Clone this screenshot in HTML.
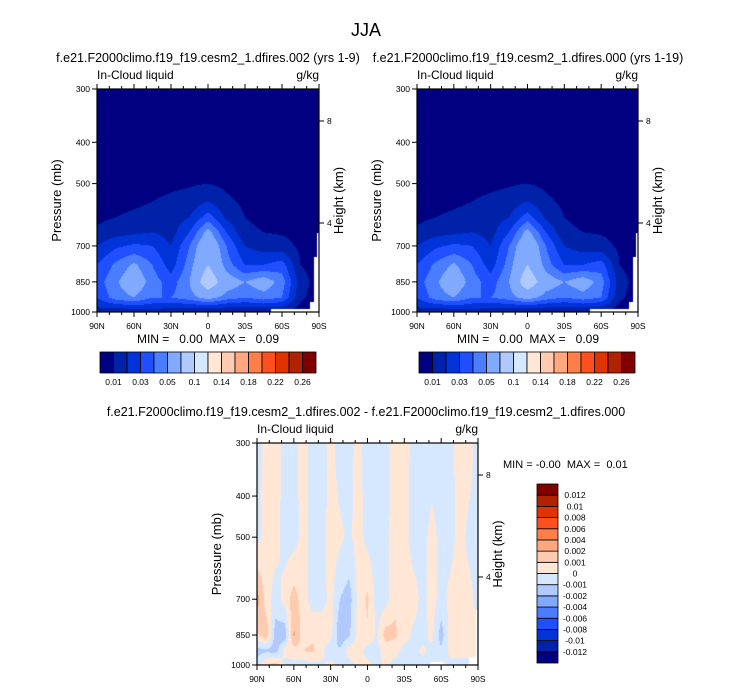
<!DOCTYPE html>
<html><head><meta charset="utf-8">
<style>
body{margin:0;background:#fff;}
#wrap{position:relative;width:732px;height:689px;overflow:hidden;font-family:"Liberation Sans",Arial,sans-serif;}
canvas{position:absolute;}
svg{position:absolute;left:0;top:0;}
</style></head>
<body>
<div id="wrap">
<canvas id="c1" width="222" height="223" style="left:97px;top:89px"></canvas>
<canvas id="c2" width="221" height="223" style="left:417px;top:89px"></canvas>
<canvas id="c3" width="221" height="222" style="left:257px;top:443px"></canvas>
<svg id="ov" width="732" height="689"></svg>
</div>
<script>
// ---- data ----
const lats = [90,75,60,45,30,15,0,-15,-30,-45,-60,-75,-90];
const levs = [300,400,500,550,600,650,700,775,850,925,1000];
const fieldA = [
 [.003,.003,.003,.003,.003,.003,.003,.003,.003,.003,.003,.003,.003],
 [.004,.004,.004,.004,.004,.004,.004,.004,.004,.004,.004,.004,.004],
 [.005,.005,.006,.007,.008,.009,.010,.008,.006,.005,.005,.005,.005],
 [.006,.007,.008,.010,.012,.014,.020,.012,.008,.006,.006,.005,.005],
 [.008,.010,.012,.014,.015,.020,.035,.018,.010,.008,.007,.006,.005],
 [.012,.016,.018,.020,.016,.030,.055,.030,.012,.010,.009,.007,.005],
 [.020,.028,.032,.030,.020,.040,.065,.040,.020,.015,.014,.008,.005],
 [.030,.042,.052,.040,.025,.045,.070,.045,.030,.030,.035,.010,.005],
 [.035,.048,.060,.045,.035,.050,.085,.058,.050,.058,.045,.015,.005],
 [.030,.045,.050,.040,.040,.045,.055,.045,.040,.045,.040,.012,.005],
 [.015,.010,.012,.015,.012,.010,.008,.008,.008,.008,.008,.005,.004]];
const fieldB = [
 [.003,.003,.003,.003,.003,.003,.003,.003,.003,.003,.003,.003,.003],
 [.004,.004,.004,.004,.004,.004,.004,.004,.004,.004,.004,.004,.004],
 [.005,.005,.006,.007,.008,.009,.010,.008,.006,.005,.005,.005,.005],
 [.006,.007,.008,.010,.012,.014,.020,.012,.008,.006,.006,.005,.005],
 [.008,.010,.012,.014,.015,.020,.035,.018,.010,.008,.007,.006,.005],
 [.012,.016,.018,.020,.016,.030,.055,.030,.012,.010,.009,.007,.005],
 [.020,.028,.032,.030,.020,.040,.065,.040,.020,.015,.014,.008,.005],
 [.030,.042,.052,.040,.025,.045,.070,.045,.030,.030,.035,.010,.005],
 [.035,.048,.060,.045,.035,.050,.085,.058,.050,.058,.045,.015,.005],
 [.030,.045,.050,.040,.040,.045,.055,.045,.040,.045,.040,.012,.005],
 [.015,.010,.012,.015,.012,.010,.008,.008,.008,.008,.008,.005,.004]];
const latsD = [90,82.5,75,67.5,60,52.5,45,37.5,30,22.5,15,7.5,0,-7.5,-15,-22.5,-30,-37.5,-45,-52.5,-60,-67.5,-75,-82.5,-90];
const levsD = [300,500,700,850,925,1000];
const fieldD = [
 [-.0005,.0005,.0006,-.0004,-.0003,.0004,-.0004,-.0005,.0003,-.0004,-.0003,.0003,-.0005,-.0004,-.0003,.0004,.0004,-.0003,-.0004,-.0004,-.0003,-.0003,.0004,.0003,-.0003],
 [-.0003,.0004,.0004,-.0004,-.0004,.0003,-.0003,-.0004,.0004,.0002,-.0002,.0004,-.0003,-.0005,-.0003,.0005,.0004,-.0004,-.0003,.0003,-.0003,-.0003,.0003,-.0002,-.0003],
 [.0025,.0005,-.0005,.0004,.0015,.0005,-.0004,-.0005,.0004,-.0010,-.0015,.0003,.0012,-.0004,-.0004,.0008,.0004,.0004,-.0003,.0004,-.0004,.0003,.0004,.0003,-.0003],
 [.0008,.0018,-.0015,-.0018,.0022,.0005,.0008,.0010,.0004,-.0018,-.0012,.0005,.0008,-.0002,.0015,.0012,.0004,-.0002,-.0004,.0003,-.0015,.0004,.0004,.0003,.0002],
 [-.0015,-.0012,-.0015,.0004,.0005,.0010,.0012,.0004,-.0010,-.0008,.0004,.0004,-.0004,-.0003,.0004,.0003,-.0003,-.0003,.0002,-.0003,-.0008,.0003,.0002,.0003,.0002],
 [-.0005,.0010,.0015,-.0004,-.0003,-.0006,-.0003,-.0002,.0004,-.0002,-.0003,.0002,.0003,-.0003,.0002,-.0003,-.0003,-.0003,-.0003,-.0003,.0004,-.0003,-.0002,-.0003,-.0003]];
const levelsA = [0.01,0.02,0.03,0.04,0.05,0.07,0.1,0.12,0.14,0.16,0.18,0.2,0.22,0.24,0.26];
const labelsA = ["0.01","0.03","0.05","0.1","0.14","0.18","0.22","0.26"];
const levelsD = [-0.012,-0.01,-0.008,-0.006,-0.004,-0.002,-0.001,0,0.001,0.002,0.004,0.006,0.008,0.01,0.012];
const labelsD = ["-0.012","-0.01","-0.008","-0.006","-0.004","-0.002","-0.001","0","0.001","0.002","0.004","0.006","0.008","0.01","0.012"];
const colors = ["#000080","#0022a8","#0033d8","#1f4fff","#4a7dff","#80aaff","#b0c9ff","#d5e8ff","#ffe6d5","#ffcbb0","#ffa880","#ff7f4a","#ff4f1f","#e03300","#b02200","#800000"];
const pTicks = [300,400,500,700,850,1000];
const latTicks = [90,60,30,0,-30,-60,-90];
const latLabels = ["90N","60N","30N","0","30S","60S","90S"];

function hex(c){return [parseInt(c.substr(1,2),16),parseInt(c.substr(3,2),16),parseInt(c.substr(5,2),16)];}
const rgb = colors.map(hex);
function yOfP(p,top,h){return top+Math.log(p/300)/Math.log(1000/300)*h;}
function xOfLat(l,left,w){return left+(90-l)/180*w;}
function interp(arr,v){
  const asc = arr[arr.length-1]>arr[0];
  for(let i=0;i<arr.length-1;i++){
    const a=arr[i],b=arr[i+1];
    if((asc&&v>=a&&v<=b)||(!asc&&v<=a&&v>=b)) return [i,(v-a)/(b-a)];
  }
  return asc?(v<arr[0]?[0,0]:[arr.length-2,1]):(v>arr[0]?[0,0]:[arr.length-2,1]);
}
function drawField(id,la,lv,f,levels,mask){
  const cv=document.getElementById(id),ctx=cv.getContext('2d');
  const W=cv.width,H=cv.height,img=ctx.createImageData(W,H);
  for(let y=0;y<H;y++){
    const p=300*Math.pow(1000/300,(y+0.5)/H);
    const [pi,pf]=interp(lv,p);
    for(let x=0;x<W;x++){
      const lat=90-(x+0.5)/W*180;
      const [li,lf]=interp(la,lat);
      const v=(1-pf)*((1-lf)*f[pi][li]+lf*f[pi][li+1])+pf*((1-lf)*f[pi+1][li]+lf*f[pi+1][li+1]);
      let k=0;while(k<levels.length&&v>=levels[k])k++;
      let c=rgb[k];
      if(mask && mask(x/W,y/H)) c=[255,255,255];
      const o=(y*W+x)*4;img.data[o]=c[0];img.data[o+1]=c[1];img.data[o+2]=c[2];img.data[o+3]=255;
    }
  }
  ctx.putImageData(img,0,0);
}
function topoMask(fx,fy){
  if(fx>0.78&&fy>0.985) return true;
  if(fx>0.955&&fy>0.955) return true;
  if(fx>0.975&&fy>0.75) return true;
  if(fx>0.99&&fy>0.645) return true;
  return false;
}
drawField('c1',lats,levs,fieldA,levelsA,topoMask);
drawField('c2',lats,levs,fieldB,levelsA,topoMask);
drawField('c3',latsD,levsD,fieldD,levelsD,function(fx,fy){return (fx>0.78&&fx<0.84&&fy>0.985)||(fx>0.955&&fy>0.96)||(fx>0.99&&fy>0.75);});

const NS='http://www.w3.org/2000/svg';
const ov=document.getElementById('ov');
function el(tag,attrs,text){const e=document.createElementNS(NS,tag);for(const k in attrs)e.setAttribute(k,attrs[k]);if(text!==undefined)e.textContent=text;ov.appendChild(e);return e;}

function txt(x,y,s,size,anchor,name,rot){
  const t=el('text',{x:x,y:y,'font-size':size,'text-anchor':anchor||'start','font-family':'Liberation Sans, Arial, sans-serif',fill:'#000'},s);
  if(rot) t.setAttribute('transform','rotate(-90 '+x+' '+y+')');
  
  
  t.style.whiteSpace='pre';
  return t;
}
function line(x1,y1,x2,y2,name){
  const l=el('line',{x1:x1,y1:y1,x2:x2,y2:y2,stroke:'#000','stroke-width':1});
  
  
}
function panel(L,T,W,H,pre){
  const fr=el('rect',{x:L,y:T,width:W,height:H,fill:'none',stroke:'#000','stroke-width':1.2});
  
  
  pTicks.forEach(p=>{const y=yOfP(p,T,H);line(L-5,y,L,y,pre+'-y-tick');txt(L-7,y+3,String(p),8.5,'end',pre+'-y-tick-label');});
  for(let l=90;l>=-90;l-=10){const x=xOfLat(l,L,W);const major=l%30===0;line(x,T+H,x,T+H+(major?5:3),pre+'-x-tick');line(x,T,x,T-(major?5:3),pre+'-x-top-tick');}
  latTicks.forEach((l,i)=>{txt(xOfLat(l,L,W),T+H+17,latLabels[i],8.5,'middle',pre+'-x-tick-label');});
  [[8,T+32],[4,T+134]].forEach(a=>{line(L+W,a[1],L+W+5,a[1],pre+'-height-tick');txt(L+W+8,a[1]+3,String(a[0]),8.5,'start',pre+'-height-tick-label');});
  txt(L,T-10,'In-Cloud liquid',12,'start',pre+'-variable-label');
  txt(L+W,T-10,'g/kg',12,'end',pre+'-units-label');
  txt(L-36,T+H/2,'Pressure (mb)',13,'middle',pre+'-y-axis-title',true);
  txt(L+W+24,T+H/2,'Height (km)',13,'middle',pre+'-height-axis-title',true);
}
panel(97,89,222,223,'left');
panel(417,89,221,223,'right');
panel(257,443,221,222,'diff');

txt(366,36,'JJA',18,'middle','figure-title');
txt(208,62,'f.e21.F2000climo.f19_f19.cesm2_1.dfires.002 (yrs 1-9)',12.5,'middle','left-panel-title');
txt(528,62,'f.e21.F2000climo.f19_f19.cesm2_1.dfires.000 (yrs 1-19)',12.5,'middle','right-panel-title');
txt(366,416,'f.e21.F2000climo.f19_f19.cesm2_1.dfires.002 - f.e21.F2000climo.f19_f19.cesm2_1.dfires.000',12.5,'middle','difference-panel-title');
txt(208,343,'MIN =   0.00  MAX =   0.09',12,'middle','left-min-max');
txt(528,343,'MIN =   0.00  MAX =   0.09',12,'middle','right-min-max');
txt(503,468,'MIN = -0.00  MAX =  0.01',11,'start','diff-min-max');

function hbar(L,T,W,H,pre){
  const bw=W/colors.length;
  colors.forEach((c,i)=>{const r=el('rect',{x:L+i*bw,y:T,width:bw,height:H,fill:c,stroke:'#000','stroke-width':0.8});
    
    });
  labelsA.forEach((s,i)=>{txt(L+(2*i+1)*bw,T+H+12,s,8.5,'middle',pre+'-colorbar-label');});
}
hbar(100,352,216,21,'left');
hbar(419,352,216,21,'right');
(function(){
  const L=537,T=484,W=21,H=179,bh=H/colors.length;
  colors.forEach((c,i)=>{const r=el('rect',{x:L,y:T+H-(i+1)*bh,width:W,height:bh,fill:c,stroke:'#000','stroke-width':0.8});
    
    });
  labelsD.forEach((s,i)=>{const y=T+H-(i+1)*bh;txt(575,y+3,s,8.5,'middle','diff-colorbar-label');});
})();
</script>
</body></html>
